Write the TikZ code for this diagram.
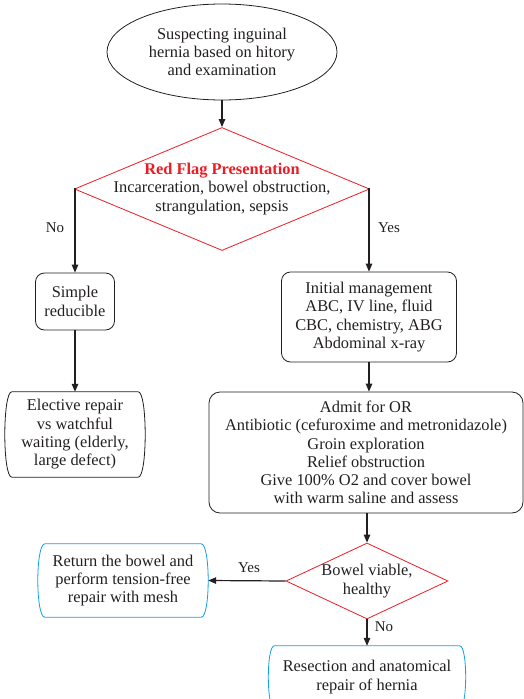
\documentclass[tikz,border=0pt]{standalone}
\usepackage{fontspec}
\setmainfont{Liberation Serif}
\usetikzlibrary{shapes.geometric,arrows.meta}

\definecolor{ink}{RGB}{35,31,32}
\definecolor{flagred}{RGB}{237,28,36}
\definecolor{outcomeblue}{RGB}{20,160,228}

% box with flat top and bottom and outward-bowed sides;
% #1 node name, #2 bow depth, #3 draw options
\newcommand\bowedbox[3]{%
  \draw[#3]
    ([xshift=#2]#1.north west) -- ([xshift=-#2]#1.north east)
    .. controls ([xshift=#2/3]#1.north east) and ([xshift=#2/3]#1.south east)
    .. ([xshift=-#2]#1.south east) -- ([xshift=#2]#1.south west)
    .. controls ([xshift=-#2/3]#1.south west) and ([xshift=-#2/3]#1.north west)
    .. ([xshift=#2]#1.north west) -- cycle;}

\tikzset{
  every node/.style={font=\fontsize{16.4}{18.3}\selectfont, text=ink, align=center, inner sep=0pt},
  startnode/.style={ellipse, draw=ink, line width=0.8pt, minimum width=230pt, minimum height=96pt},
  decision/.style={diamond, draw=flagred, line width=0.8pt},
  stepbox/.style={rectangle, rounded corners=9pt, draw=ink, line width=0.8pt},
  bowed/.style={rectangle},
  flow/.style={draw=ink, line width=1.2pt, -{Triangle[length=8pt,width=6.5pt]}},
  branch/.style={font=\fontsize{15}{17}\selectfont}
}

\begin{document}
\begin{tikzpicture}[x=1pt,y=-1pt]
\useasboundingbox (0,0) rectangle (524,699);
\clip (0,0) rectangle (524,699);

% start
\node[startnode] (start) at (222,52)
  {Suspecting inguinal\\hernia based on hitory\\and examination};

% first decision
\node[decision, minimum width=295pt, minimum height=123pt] (flag) at (222,189) {};
\node (flagtext) at (222,189)
  {\textcolor{flagred}{\bfseries Red Flag Presentation}\\Incarceration, bowel obstruction,\\strangulation, sepsis};

% left branch
\node[stepbox, minimum width=79pt, minimum height=57pt] (simple) at (75,301.5)
  {Simple\\reducible};
\node[bowed, minimum width=140pt, minimum height=85pt] (elective) at (75,434.5)
  {Elective repair\\vs watchful\\waiting (elderly,\\large defect)};
\bowedbox{elective}{7pt}{draw=ink, line width=0.8pt}

% right branch
\node[stepbox, minimum width=175pt, minimum height=90pt] (initial) at (369,317)
  {Initial management\\ABC, IV line, fluid\\CBC, chemistry, ABG\\Abdominal x-ray};
\node[stepbox, rounded corners=11pt, minimum width=314pt, minimum height=121pt] (admit) at (366,452.5)
  {Admit for OR\\Antibiotic (cefuroxime and metronidazole)\\Groin exploration\\Relief obstruction\\Give 100\% O2 and cover bowel\\with warm saline and assess};

% second decision
\node[decision, minimum width=162pt, minimum height=76pt] (viable) at (367,581) {};
\node (viabletext) at (367,581) {Bowel viable,\\healthy};

\node[bowed, minimum width=170pt, minimum height=73pt] (return) at (123,580.5)
  {Return the bowel and\\perform tension-free\\repair with mesh};
\bowedbox{return}{7pt}{draw=outcomeblue, line width=0.8pt}

\node[bowed, minimum width=197pt, minimum height=62pt] (resect) at (367,677)
  {Resection and anatomical\\repair of hernia};
\bowedbox{resect}{6pt}{draw=outcomeblue, line width=0.8pt}

% connectors
\draw[flow] (start.south) -- (flag.north);
\draw[flow] (flag.west) -| (simple.north);
\draw[flow] (flag.east) -| (initial.north);
\draw[flow] (simple.south) -- (simple.south |- elective.north);
\draw[flow] (initial.south) -- (initial.south |- admit.north);
\draw[flow] (admit.south -| viable.north) -- (viable.north);
\draw[flow] (viable.west) -- (return.east);
\draw[flow] (viable.south) -- (resect.north);

% branch labels
\node[branch] (lblno1) at (55,228) {No};
\node[branch] (lblyes1) at (389,228) {Yes};
\node[branch] (lblyes2) at (249,568) {Yes};
\node[branch] (lblno2) at (384,627) {No};
\end{tikzpicture}
\end{document}
